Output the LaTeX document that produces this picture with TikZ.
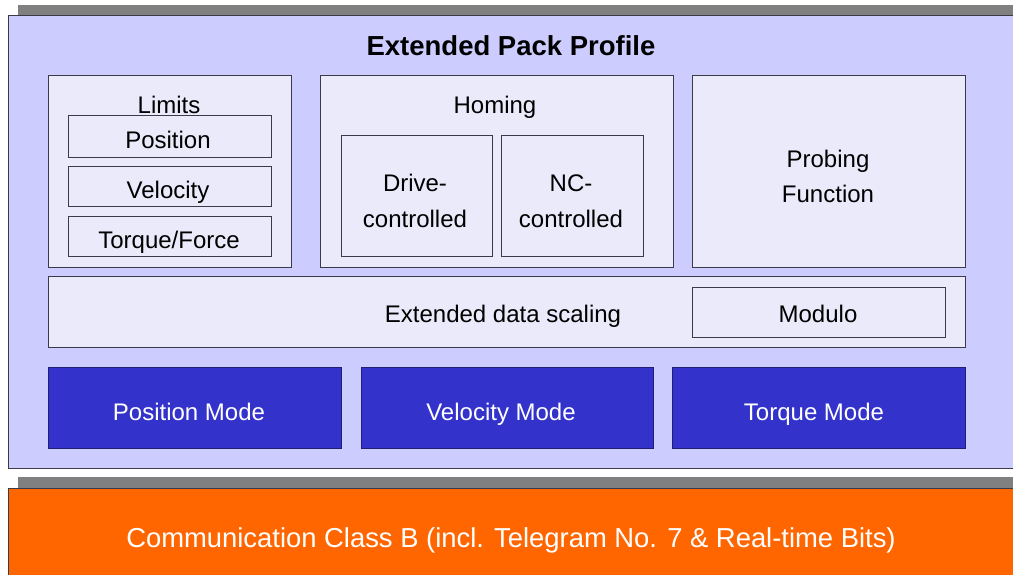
\documentclass[tikz,border=0pt]{standalone}
\usepackage{fontspec}
\setmainfont{Liberation Sans}
\definecolor{panel}{HTML}{CCCCFF}
\definecolor{inner}{HTML}{EAEAFA}
\definecolor{modeblue}{HTML}{3333CC}
\definecolor{orng}{HTML}{FF6600}
\definecolor{shadowgray}{HTML}{808080}
\definecolor{edge}{HTML}{3A3A4A}
\begin{document}
\begin{tikzpicture}[x=1pt,y=-1pt,
  ibox/.style={draw=edge,line width=0.9pt,fill=inner,rectangle,inner sep=0pt,anchor=north west},
  mbox/.style={draw=modeblue!60!black,line width=0.9pt,fill=modeblue,rectangle,inner sep=0pt,anchor=north west},
  txt/.style={font=\fontsize{24}{28}\selectfont,inner sep=0pt,anchor=base},
  wtxt/.style={txt,text=white}
]
\useasboundingbox (0,0) rectangle (1013,574);
\fill[white] (0,0) rectangle (1013,574);
% top panel with shadow
\fill[shadowgray] (18,5) rectangle (1020,15);
\draw[edge,line width=0.9pt,fill=panel] (8,15) rectangle (1020,468);
% bottom band with shadow
\fill[shadowgray] (18,477) rectangle (1020,488);
\draw[edge,line width=0.9pt,fill=orng] (8,488) rectangle (1020,580);

\node[font=\bfseries\fontsize{27.5}{30}\selectfont,inner sep=0pt,anchor=base] (title) at (511,55) {Extended Pack Profile};

% Limits
\node[ibox,minimum width=243pt,minimum height=192pt] (lim) at (48,75) {};
\node[txt] (limt) at (169,113) {Limits};
\node[ibox,minimum width=203pt,minimum height=42pt] (pos) at (68,115) {};
\node[txt] (post) at (168,148) {Position};
\node[ibox,minimum width=203pt,minimum height=40pt] (vel) at (68,166) {};
\node[txt] (velt) at (168,198) {Velocity};
\node[ibox,minimum width=203pt,minimum height=40pt] (trq) at (68,216) {};
\node[txt] (trqt) at (169,248) {Torque/Force};

% Homing
\node[ibox,minimum width=353pt,minimum height=192pt] (hom) at (320,75) {};
\node[txt] (homt) at (495,113) {Homing};
\node[ibox,minimum width=151pt,minimum height=121pt] (drv) at (341,135) {};
\node[txt] (drv1) at (415,191) {Drive-};
\node[txt] (drv2) at (415,227) {controlled};
\node[ibox,minimum width=142pt,minimum height=121pt] (ncc) at (501,135) {};
\node[txt] (ncc1) at (571,191) {NC-};
\node[txt] (ncc2) at (571,227) {controlled};

% Probing
\node[ibox,minimum width=273pt,minimum height=192pt] (prb) at (692,75) {};
\node[txt] (prb1) at (828,167) {Probing};
\node[txt] (prb2) at (828,202) {Function};

% Extended data scaling
\node[ibox,minimum width=917pt,minimum height=71pt] (eds) at (48,276) {};
\node[txt] (edst) at (503,322) {Extended data scaling};
\node[ibox,minimum width=253pt,minimum height=50pt] (mod) at (692,287) {};
\node[txt] (modt) at (818,322) {Modulo};

% Modes
\node[mbox,minimum width=293pt,minimum height=81pt] (pm) at (48,367) {};
\node[wtxt] (pmt) at (189,420) {Position Mode};
\node[mbox,minimum width=292pt,minimum height=81pt] (vm) at (361,367) {};
\node[wtxt] (vmt) at (501,420) {Velocity Mode};
\node[mbox,minimum width=293pt,minimum height=81pt] (tm) at (672,367) {};
\node[wtxt] (tmt) at (814,420) {Torque Mode};

% Communication
\node[wtxt,font=\fontsize{27.4}{30}\selectfont] (comm) at (511,547) {Communication Class B (incl. Telegram No. 7 \& Real-time Bits)};
\end{tikzpicture}
\end{document}
